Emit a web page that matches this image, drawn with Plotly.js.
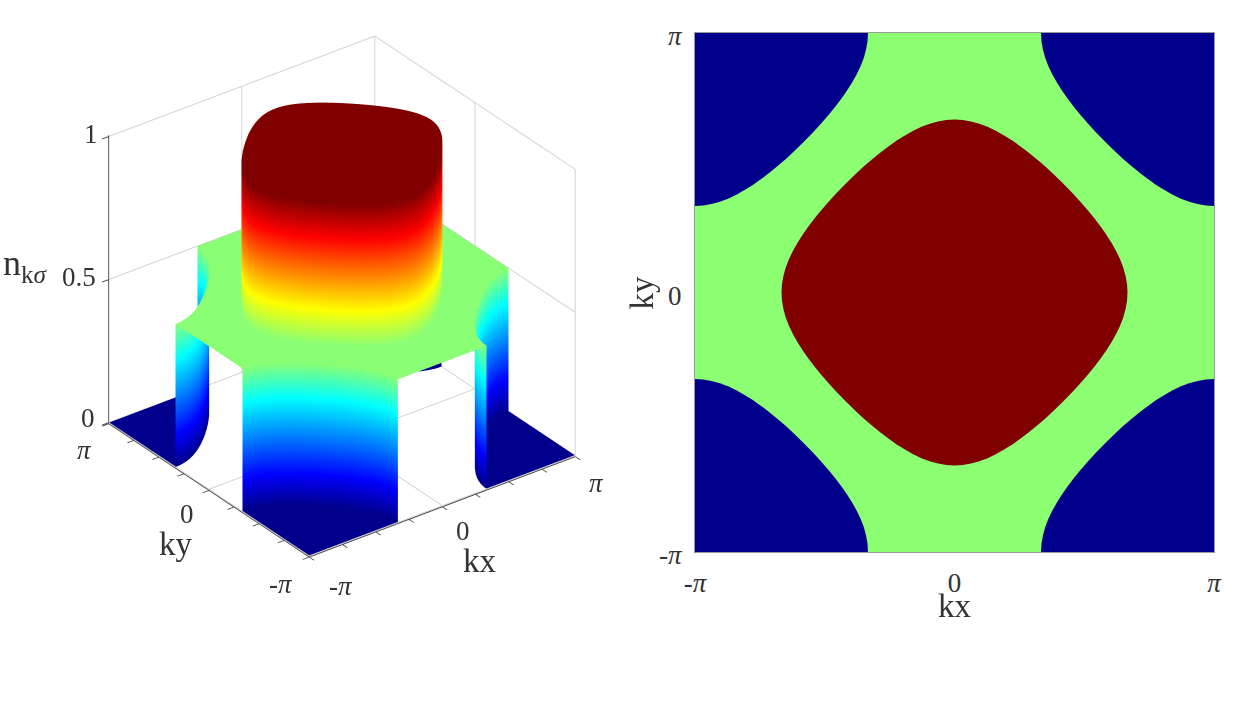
<!DOCTYPE html>
<html>
<head>
<meta charset="utf-8">
<script src="https://cdn.plot.ly/plotly-3.0.1.min.js"></script>
<style>html,body{margin:0;padding:0;background:#fff}</style>
</head>
<body>
<div id="chart" style="width:1246px;height:701px"></div>
<script>
const PI = Math.PI;

// Fermi contour, one quadrant (radians)
const contourKx = [0, 0.1, 0.2, 0.3, 0.4, 0.5, 0.6, 0.7, 0.8, 0.9, 1.0, 1.1, 1.2, 1.318, 1.433, 1.524, 1.611, 1.693, 1.769, 1.839, 1.902, 1.958, 2.006, 2.044, 2.071, 2.089, 2.094];
const contourKy = [2.094, 2.089, 2.071, 2.044, 2.006, 1.958, 1.902, 1.839, 1.769, 1.693, 1.611, 1.524, 1.433, 1.318, 1.2, 1.1, 1.0, 0.9, 0.8, 0.7, 0.6, 0.5, 0.4, 0.3, 0.2, 0.1, 0];

// occupation levels
const nLow = 0, nMid = 0.5, nHigh = 1;
const upperWall = [1, 0.97, 0.94, 0.91, 0.88, 0.85, 0.82, 0.79, 0.76, 0.73, 0.7, 0.67, 0.64, 0.61, 0.58, 0.55, 0.52, 0.5];
const lowerWall = [0, 0.03, 0.06, 0.09, 0.12, 0.15, 0.18, 0.21, 0.24, 0.27, 0.3, 0.33, 0.36, 0.39, 0.42, 0.45, 0.48, 0.5];

const axisTicks = [-PI, 0, PI];
const axisTickText = ['-<i>π</i>', '0', '<i>π</i>'];
const minorTicks = [-PI, -2.356, -1.571, -0.785, 0, 0.785, 1.571, 2.356, PI];
const zTicks = [0, 0.5, 1];
const zRange = [-0.004, 1.004]; // a hair wider, surfaces at exactly 0 and 1 get clipped along their edges

const jet = [
    [0, '#00008c'], [0.11, '#0000ff'], [0.375, '#00ffff'], [0.5, '#8cff73'],
    [0.625, '#ffff00'], [0.875, '#ff0000'], [1, '#800000']
];
const quadrants = [[1, 1], [1, -1], [-1, -1], [-1, 1]];
const serif = '"Liberation Serif", serif';
const textColor = '#333333';

const n = contourKx.length;

function centralLoop() {
    let xs = [], ys = [];
    quadrants.forEach(function(q, i) {
        for (let j = 0; j < n; j++) {
            const k = i % 2 === 0 ? j : n - 1 - j;
            xs.push(q[0] * contourKx[k]);
            ys.push(q[1] * contourKy[k]);
        }
    });
    return {x: xs, y: ys};
}

function cornerArc(q) {
    return {
        x: contourKx.map(a => q[0] * (PI - a)),
        y: contourKy.map(b => q[1] * (PI - b))
    };
}

// flat fan from a centre point out to the path
function cap(path, cx, cy, z) {
    const row = v => path.x.map(() => v);
    return surface([row(cx), path.x], [row(cy), path.y], [row(z), row(z)]);
}

// wall standing on the path, going through the levels
function wall(path, levels) {
    return surface(
        levels.map(() => path.x),
        levels.map(() => path.y),
        levels.map(z => path.x.map(() => z))
    );
}

function surface(X, Y, Z) {
    const off = {show: false, highlight: false};
    return {
        type: 'surface', x: X, y: Y, z: Z, surfacecolor: Z,
        cmin: 0, cmax: 1, colorscale: jet, showscale: false, hoverinfo: 'skip',
        lighting: {ambient: 1, diffuse: 0, specular: 0, roughness: 1, fresnel: 0},
        contours: {x: off, y: off, z: off},
        scene: 'scene'
    };
}

function plateQuarter(q) {
    const innerX = [0].concat(contourKx, [contourKx[n - 1]]).map(v => q[0] * v);
    const innerY = [contourKy[0]].concat(contourKy, [0]).map(v => q[1] * v);
    let outerX = [0], outerY = [PI];
    for (let i = n - 1; i >= 0; i--) {
        outerX.push(PI - contourKx[i]);
        outerY.push(PI - contourKy[i]);
    }
    outerX.push(PI);
    outerY.push(0);
    outerX = outerX.map(v => q[0] * v);
    outerY = outerY.map(v => q[1] * v);
    const Z = [innerX.map(() => nMid), innerX.map(() => nMid)];
    return surface([innerX, outerX], [innerY, outerY], Z);
}

// grid on the two back walls and the floor, at the labelled ticks only
function gridLines() {
    let xs = [], ys = [], zs = [];
    const seg = function(a, b) {
        xs.push(a[0], b[0], null);
        ys.push(a[1], b[1], null);
        zs.push(a[2], b[2], null);
    };
    axisTicks.forEach(function(t) {
        seg([t, PI, nLow], [t, PI, nHigh]);
        seg([PI, t, nLow], [PI, t, nHigh]);
        seg([t, -PI, nLow], [t, PI, nLow]);
        seg([-PI, t, nLow], [PI, t, nLow]);
    });
    zTicks.forEach(function(z) {
        seg([-PI, PI, z], [PI, PI, z]);
        seg([PI, -PI, z], [PI, PI, z]);
    });
    return {
        type: 'scatter3d', mode: 'lines', x: xs, y: ys, z: zs, connectgaps: false,
        line: {color: '#d4d4d4', width: 2}, hoverinfo: 'skip', scene: 'scene'
    };
}

let traces = [gridLines()];

// left panel
const loop = centralLoop();
traces.push(cap(loop, 0, 0, nHigh));
traces.push(wall(loop, upperWall));
quadrants.forEach(function(q) {
    const arc = cornerArc(q);
    traces.push(plateQuarter(q));
    traces.push(cap(arc, q[0] * PI, q[1] * PI, nLow));
    traces.push(wall(arc, lowerWall));
});

// right panel
traces.push({
    type: 'scatter', x: loop.x, y: loop.y, mode: 'lines', fill: 'toself',
    fillcolor: '#800000', line: {width: 0, simplify: false}, hoverinfo: 'skip', xaxis: 'x', yaxis: 'y'
});
quadrants.forEach(function(q) {
    const arc = cornerArc(q);
    traces.push({
        type: 'scatter',
        x: [q[0] * PI].concat(arc.x),
        y: [q[1] * PI].concat(arc.y),
        mode: 'lines', fill: 'toself', fillcolor: '#00008c', line: {width: 0, simplify: false},
        hoverinfo: 'skip', xaxis: 'x', yaxis: 'y'
    });
});

function axis3d(range, ticks) {
    return {
        range: range, tickvals: ticks, ticktext: ticks.map(() => ''), showticklabels: false,
        title: {text: ''}, showgrid: false,
        showline: true, linecolor: '#444444', linewidth: 2, ticks: 'outside', ticklen: 8, tickwidth: 2,
        tickcolor: '#444444', zeroline: false, showbackground: false, showspikes: false
    };
}

function label3d(x, y, z, text, dx, dy, size) {
    return {
        x: x, y: y, z: z, text: text, showarrow: false, xshift: dx, yshift: -dy,
        xanchor: 'center', yanchor: 'middle',
        font: {family: serif, size: size || 27, color: textColor}
    };
}

const W = 1246, H = 701;
const scenePx = {x0: 62, x1: 622, y0: 16, y1: 576};
const boxScale = 1.19;

const layout = {
    width: W, height: H, margin: {l: 0, r: 0, t: 0, b: 0},
    paper_bgcolor: '#ffffff', plot_bgcolor: '#8cff73', showlegend: false,
    font: {family: serif, size: 27, color: textColor},
    scene: {
        domain: {x: [scenePx.x0 / W, scenePx.x1 / W], y: [1 - scenePx.y1 / H, 1 - scenePx.y0 / H]},
        bgcolor: '#ffffff',
        aspectmode: 'manual', aspectratio: {x: boxScale, y: boxScale, z: boxScale},
        camera: {
            eye: {x: -0.52 * 1.7, y: -0.69 * 1.7, z: 0.5 * 1.7},
            up: {x: 0, y: 0, z: 1}, center: {x: 0, y: 0, z: 0},
            projection: {type: 'orthographic'}
        },
        xaxis: axis3d([-PI, PI], minorTicks),
        yaxis: axis3d([-PI, PI], minorTicks),
        zaxis: axis3d(zRange, zTicks),
        annotations: [
            label3d(-PI, PI, zTicks[2], '1', -18, -3),
            label3d(-PI, PI, zTicks[1], '0.5', -30, -3),
            label3d(-PI, PI, zTicks[0], '0', -21, -5),
            label3d(-PI, PI, zTicks[1], 'n<sub>k<i>σ</i></sub>', -83, -14, 36),
            label3d(-PI, axisTicks[2], 0, axisTickText[2], -24, 27),
            label3d(-PI, axisTicks[1], 0, axisTickText[1], -22, 25),
            label3d(-PI, axisTicks[1], 0, 'ky', -33, 55, 33),
            label3d(-PI, axisTicks[0], 0, axisTickText[0], -28, 28),
            label3d(axisTicks[0], -PI, 0, axisTickText[0], 32, 30),
            label3d(axisTicks[1], -PI, 0, axisTickText[1], 21, 25),
            label3d(axisTicks[1], -PI, 0, 'kx', 38, 55, 33),
            label3d(axisTicks[2], -PI, 0, axisTickText[2], 21, 28)
        ]
    },
    xaxis: {
        domain: [695 / W, 1214 / W], range: [-PI, PI], tickvals: axisTicks, ticktext: axisTickText,
        ticks: 'outside', ticklen: 7, tickcolor: 'rgba(0,0,0,0)', showgrid: false, zeroline: false,
        showline: true, linecolor: '#999999', linewidth: 1, mirror: true
    },
    yaxis: {
        domain: [1 - 552 / H, 1 - 33 / H], range: [-PI, PI], tickvals: axisTicks, ticktext: axisTickText,
        ticks: 'outside', ticklen: 7, tickcolor: 'rgba(0,0,0,0)', showgrid: false, zeroline: false,
        showline: true, linecolor: '#999999', linewidth: 1, mirror: true, ticklabelshift: 3
    },
    annotations: [
        {xref: 'x', x: 0, yref: 'paper', y: 1 - 606 / H, text: 'kx', showarrow: false,
            xanchor: 'center', yanchor: 'middle', font: {family: serif, size: 33, color: textColor}},
        {xref: 'paper', x: 642 / W, yref: 'y', y: 0, text: 'ky', showarrow: false, textangle: -90,
            xanchor: 'center', yanchor: 'middle', font: {family: serif, size: 33, color: textColor}}
    ]
};

Plotly.newPlot('chart', traces, layout, {displayModeBar: false});
</script>
</body>
</html>
